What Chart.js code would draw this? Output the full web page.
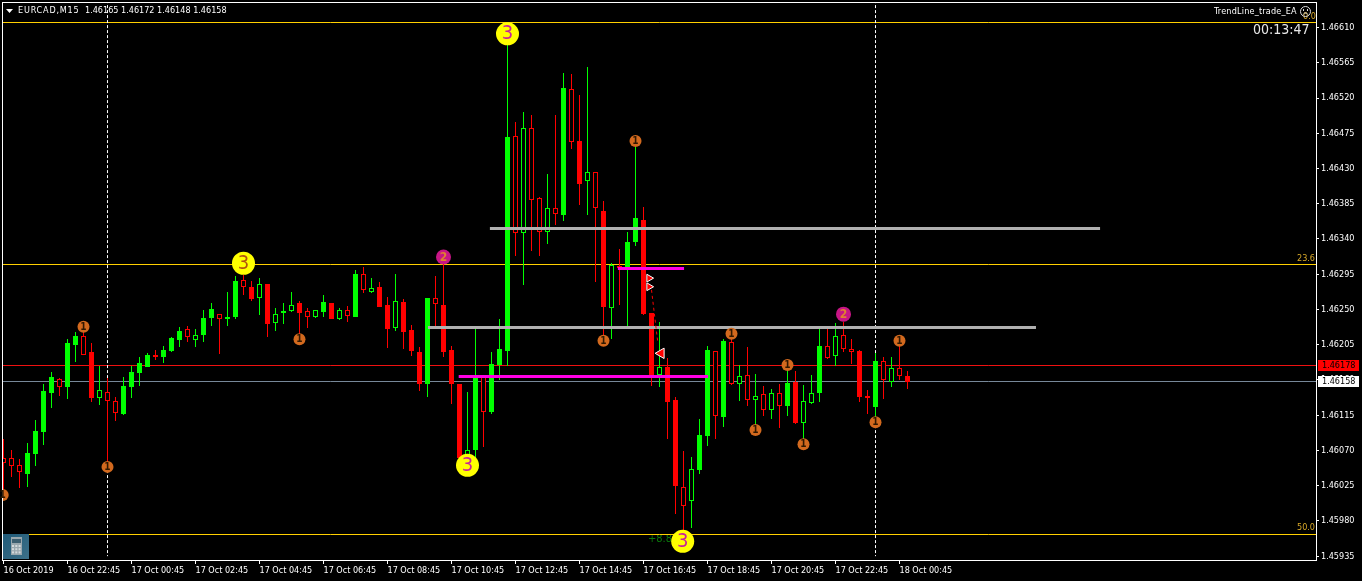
<!DOCTYPE html>
<html>
<head>
<meta charset="utf-8">
<style>html,body{margin:0;padding:0;background:#000;overflow:hidden}canvas{display:block}</style>
<script src="https://cdn.jsdelivr.net/npm/chart.js@4"></script>
</head>
<body>
<canvas id="c" width="1362" height="581"></canvas>
<script>
const opens=[1.46060,1.46060,1.46052,1.46040,1.46065,1.46094,1.46143,1.46161,1.46151,1.46205,
1.46216,1.46196,1.46137,1.46145,1.46133,1.46117,1.46151,1.46169,1.46177,1.46192,
1.46189,1.46197,1.46211,1.46225,1.46211,1.46217,1.46239,1.46244,1.46238,1.46240,
1.46288,1.46279,1.46264,1.46282,1.46233,1.46245,1.46248,1.46258,1.46248,1.46240,
1.46247,1.46258,1.46238,1.46249,1.46240,1.46295,1.46272,1.46279,1.46256,1.46226,
1.46259,1.46224,1.46196,1.46155,1.46264,1.46256,1.46198,1.46155,1.46062,1.46070,
1.46164,1.46119,1.46179,1.46197,1.46472,1.46348,1.46482,1.46392,1.46349,1.46379,
1.46371,1.46532,1.46465,1.46414,1.46425,1.46376,1.46252,1.46305,1.46304,1.46336,
1.46364,1.46245,1.46166,1.46177,1.46134,1.46023,1.46006,1.46045,1.46088,1.46197,
1.46113,1.46209,1.46155,1.46166,1.46134,1.46142,1.46122,1.46143,1.46127,1.46157,
1.46105,1.46131,1.46143,1.46203,1.46190,1.46217,1.46200,1.46197,1.46140,1.46125,
1.46184,1.46158,1.46175,1.46165];
const closes=[1.46054,1.46050,1.46042,1.46067,1.46095,1.46146,1.46164,1.46151,1.46207,1.46216,
1.46192,1.46137,1.46147,1.46133,1.46118,1.46152,1.46170,1.46182,1.46192,1.46189,
1.46198,1.46213,1.46222,1.46215,1.46217,1.46239,1.46251,1.46238,1.46240,1.46286,
1.46279,1.46263,1.46282,1.46231,1.46244,1.46248,1.46256,1.46245,1.46240,1.46249,
1.46259,1.46238,1.46249,1.46242,1.46295,1.46275,1.46278,1.46253,1.46225,1.46261,
1.46221,1.46197,1.46155,1.46265,1.46257,1.46196,1.46155,1.46060,1.46070,1.46164,
1.46119,1.46180,1.46199,1.46470,1.46348,1.46482,1.46390,1.46349,1.46379,1.46372,
1.46533,1.46464,1.46410,1.46425,1.46380,1.46253,1.46307,1.46303,1.46336,1.46367,
1.46244,1.46165,1.46177,1.46132,1.46025,1.45999,1.46046,1.46090,1.46198,1.46114,
1.46210,1.46155,1.46165,1.46134,1.46140,1.46122,1.46143,1.46127,1.46156,1.46105,
1.46133,1.46143,1.46203,1.46188,1.46216,1.46200,1.46196,1.46138,1.46137,1.46184,
1.46160,1.46175,1.46165,1.46158];
const highs=[1.46085,1.46071,1.46059,1.46080,1.46109,1.46155,1.46170,1.46163,1.46212,1.46221,
1.46222,1.46207,1.46178,1.46163,1.46138,1.46164,1.46178,1.46189,1.46194,1.46198,
1.46203,1.46215,1.46228,1.46229,1.46225,1.46249,1.46258,1.46244,1.46272,1.46293,
1.46294,1.46286,1.46290,1.46282,1.46252,1.46258,1.46272,1.46261,1.46252,1.46249,
1.46268,1.46258,1.46252,1.46254,1.46300,1.46304,1.46290,1.46285,1.46266,1.46295,
1.46263,1.46230,1.46202,1.46265,1.46293,1.46316,1.46203,1.46155,1.46145,1.46225,
1.46164,1.46196,1.46238,1.46588,1.46489,1.46502,1.46498,1.46394,1.46423,1.46498,
1.46552,1.46551,1.46524,1.46560,1.46425,1.46388,1.46309,1.46327,1.46349,1.46465,
1.46381,1.46245,1.46234,1.46188,1.46138,1.46069,1.46062,1.46110,1.46203,1.46197,
1.46212,1.46219,1.46179,1.46202,1.46168,1.46152,1.46149,1.46155,1.46179,1.46171,
1.46154,1.46166,1.46225,1.46225,1.46233,1.46234,1.46212,1.46198,1.46147,1.46194,
1.46189,1.46189,1.46210,1.46172];
const lows=[1.46013,1.46036,1.46022,1.46023,1.46050,1.46077,1.46124,1.46140,1.46136,1.46183,
1.46192,1.46132,1.46128,1.46049,1.46108,1.46115,1.46137,1.46152,1.46177,1.46185,
1.46182,1.46196,1.46202,1.46208,1.46202,1.46208,1.46229,1.46193,1.46229,1.46238,
1.46268,1.46261,1.46243,1.46215,1.46222,1.46231,1.46247,1.46212,1.46226,1.46239,
1.46240,1.46238,1.46236,1.46234,1.46240,1.46271,1.46271,1.46253,1.46201,1.46222,
1.46199,1.46191,1.46146,1.46138,1.46228,1.46189,1.46129,1.46054,1.46051,1.46059,
1.46074,1.46117,1.46160,1.46178,1.46318,1.46281,1.46325,1.46318,1.46334,1.46358,
1.46363,1.46455,1.46383,1.46371,1.46285,1.46210,1.46212,1.46256,1.46229,1.46331,
1.46243,1.46152,1.46151,1.46085,1.45989,1.45964,1.45971,1.46040,1.46076,1.46085,
1.46100,1.46154,1.46133,1.46127,1.46096,1.46114,1.46110,1.46099,1.46114,1.46104,
1.46078,1.46129,1.46132,1.46187,1.46178,1.46196,1.46180,1.46132,1.46117,1.46106,
1.46136,1.46151,1.46160,1.46148];
const hollowBars=[0,1,2,7,10,12,13,14,23,24,27,30,32,34,36,38,39,42,43,45,46,49,54,58,60,64,65,66,67,68,69,71,73,74,76,82,85,86,89,91,92,93,94,95,96,97,100,101,103,104,105,106,110,111,112];
const timeTickBars=[0,8,16,24,32,40,48,56,64,72,80,88,96,104,112];
const timeLabels=['16 Oct 2019','16 Oct 22:45','17 Oct 00:45','17 Oct 02:45','17 Oct 04:45','17 Oct 06:45','17 Oct 08:45','17 Oct 10:45','17 Oct 12:45','17 Oct 14:45','17 Oct 16:45','17 Oct 18:45','17 Oct 20:45','17 Oct 22:45','18 Oct 00:45'];
const priceTicks=[1.46610,1.46565,1.46520,1.46475,1.46430,1.46385,1.46340,1.46295,1.46250,1.46205,1.46160,1.46115,1.46070,1.46025,1.45980,1.45935];
const fibLevels=[1.46616,1.46307,1.45963];
const bidPrice=1.46178, lastPrice=1.46158;
const vLineBars=[13,109];
const grayTrend1=[60.8,137.07,1.46354], grayTrend2=[53.06,129.06,1.46227];
const magTrend1=[56.9,88.07,1.46165], magTrend2=[76.8,85.07,1.46302];
const orangeBars=[10,-0.1,13,37,79,75,91,98,94,100,109,112];
const orangePrices=[1.46228,1.46013,1.46049,1.46212,1.46465,1.46210,1.46219,1.46179,1.46096,1.46078,1.46106,1.46210];
const purpleBars=[55,105];
const purplePrices=[1.46317,1.46244];
const yellowBars=[63,30,58,84.9];
const yellowPrices=[1.46602,1.46309,1.46051,1.45954];
const arrowRightBars=[80.7,80.7], arrowRightPrices=[1.46290,1.46279];
const arrowLeftBars=[82.2], arrowLeftPrices=[1.46194];
const dashBars=[81.0,81.8], dashPrices=[1.46275,1.46207];

const FAMILY='"DejaVu Sans Condensed","Open Sans"';
const GREEN='#00ff00', RED='#ff0000', GOLD='#ffd000';
const isHollow=i=>hollowBars.includes(i);
const barColor=i=>closes[i]>=opens[i]?GREEN:RED;
const pts=(xs,ys)=>xs.map((x,i)=>({x,y:ys[i]}));
const hline=(t,color,w,order)=>({type:'line',data:[{x:t[0],y:t[2]},{x:t[1],y:t[2]}],borderColor:color,borderWidth:w,pointRadius:0,order});
const levelLine=(p,color)=>({type:'line',data:[{x:-1,y:p},{x:165,y:p}],borderColor:color,borderWidth:1,pointRadius:0,order:20});
const marks=(xs,ys,color,r)=>({type:'scatter',data:pts(xs,ys),backgroundColor:color,borderWidth:0,pointRadius:r,pointHoverRadius:r,order:2});

const frame={id:'frame',
 afterLayout(ch){
  const y=ch.scales.y,x=ch.scales.x,a=ch.chartArea;
  y.top=3;y.bottom=560;y.height=557;y.configure();
  x.top=561;x.bottom=581;
  a.top=3;a.bottom=560;a.height=557;
 },
 beforeDraw(ch){
  const c=ch.ctx;c.save();c.fillStyle='#000';c.fillRect(0,0,1362,581);c.restore();
 },
 beforeDatasetsDraw(ch){
  const c=ch.ctx;c.save();c.strokeStyle='#fff';c.lineWidth=1;c.strokeRect(2.5,2.5,1314,558);
  c.font='11px '+FAMILY;c.fillStyle='#0a7a0a';c.textBaseline='middle';c.textAlign='left';c.fillText('+8.8',648,539);
  c.restore();
  ch.data.datasets.forEach((d,i)=>{
   const els=ch.getDatasetMeta(i).data;
   if(d.type==='bar'){els.forEach(e=>{e.y=Math.round(e.y);e.base=Math.round(e.base);});}
   else if(d.type==='line'&&d.data.length===2&&d.data[0].y===d.data[1].y){els.forEach(e=>{e.y=Math.floor(e.y)+0.5;});}
  });
 },
 afterDraw(ch){
  const c=ch.ctx,X=ch.scales.x,Y=ch.scales.y;
  c.save();c.textBaseline='middle';
  const lab=(xs,ys,txt,col,font)=>{c.font=font;c.fillStyle=col;c.textAlign='center';xs.forEach((x,i)=>c.fillText(txt,X.getPixelForValue(x),Y.getPixelForValue(ys[i])+0.5));};
  lab(orangeBars,orangePrices,'1','#301800','bold 10px '+FAMILY);
  lab(purpleBars,purplePrices,'2','#e08030','bold 12px '+FAMILY);
  c.font='20px '+FAMILY;c.textAlign='center';
  yellowBars.forEach((x,i)=>{c.fillStyle=i===1?'#b05010':'#c8209a';c.fillText('3',X.getPixelForValue(x),Y.getPixelForValue(yellowPrices[i])+0.5);});
  c.textAlign='left';
  c.fillStyle='#fff';c.beginPath();c.moveTo(6,9);c.lineTo(13,9);c.lineTo(9.5,13);c.closePath();c.fill();
  c.font='9px '+FAMILY;c.fillStyle='#fff';
  c.letterSpacing='0.8px';c.fillText('EURCAD,M15',18,10.5);
  c.letterSpacing='0px';c.fillText('1.46165 1.46172 1.46148 1.46158',85,10.5);
  c.letterSpacing='0.2px';c.fillText('TrendLine_trade_EA',1214,11.5);
  c.letterSpacing='0px';
  c.font='14px '+FAMILY;c.fillStyle='#e8e8e8';c.fillText('00:13:47',1253,30.5);
  c.font='9px '+FAMILY;c.fillStyle='#d8a828';
  c.fillText('23.6',1297,259);c.fillText('50.0',1297,528);c.fillText('0.0',1303,16.5);
  c.strokeStyle='#ddd';c.lineWidth=1;c.beginPath();c.arc(1305.5,11.5,5,0,Math.PI*2);c.stroke();
  c.fillStyle='#ddd';c.fillRect(1303,9,1,2);c.fillRect(1307,9,1,2);
  c.beginPath();c.arc(1305.5,15.5,2.5,Math.PI*1.15,Math.PI*1.85);c.stroke();
  c.fillStyle='#ff0000';c.fillRect(1318,360,41,11);
  c.fillStyle='#ffffff';c.fillRect(1318,376,41,11);
  c.fillStyle='#000';c.font='9px '+FAMILY;
  c.fillText('1.46178',1322,366);c.fillText('1.46158',1322,382);
  const g=c.createLinearGradient(3,534,29,559);g.addColorStop(0,'#1f5a78');g.addColorStop(1,'#3d7088');
  c.fillStyle=g;c.fillRect(3,534,26,25);
  c.fillStyle='#9aa8ae';c.fillRect(11,537,11,18);
  c.fillStyle='#3d5f70';c.fillRect(12,539,9,4);
  c.fillStyle='#d4dadc';
  for(let a=0;a<3;a++)for(let b=0;b<3;b++)c.fillRect(12+a*3.3,545+b*3.2,2,2);
  c.restore();
 }
};

new Chart(document.getElementById('c'),{
 type:'bar',
 plugins:[frame],
 data:{datasets:[
  levelLine(fibLevels[0],GOLD),levelLine(fibLevels[1],GOLD),levelLine(fibLevels[2],GOLD),
  levelLine(bidPrice,'#f01010'),levelLine(lastPrice,'#778899'),
  ...vLineBars.map(k=>({type:'line',data:[{x:k,y:1.46645},{x:k,y:1.45935}],borderColor:'#fff',borderWidth:1,borderDash:[3,2],pointRadius:0,order:15})),
  {type:'bar',label:'wicks',data:highs.map((h,i)=>({x:i,y:[lows[i],h]})),backgroundColor:highs.map((h,i)=>barColor(i)),borderWidth:0,barThickness:1,inflateAmount:0,grouped:false,order:10},
  {type:'bar',label:'bodies',data:opens.map((o,i)=>({x:i,y:[o,closes[i]]})),
   backgroundColor:opens.map((o,i)=>isHollow(i)?'#000':barColor(i)),borderColor:opens.map((o,i)=>barColor(i)),
   borderWidth:1,borderSkipped:false,barThickness:5,inflateAmount:0,grouped:false,order:9},
  hline(grayTrend1,'#b0b0b0',3,5),hline(grayTrend2,'#b0b0b0',3,5),
  hline(magTrend1,'#ff00e6',3,4),hline(magTrend2,'#ff00e6',3,4),
  {type:'line',data:pts(dashBars,dashPrices),borderColor:'#ff0000',borderWidth:1,borderDash:[3,3],pointRadius:0,order:3},
  {type:'scatter',data:pts(arrowRightBars,arrowRightPrices),pointStyle:'triangle',pointRotation:90,backgroundColor:'#ff0000',borderColor:'#fff',borderWidth:1,pointRadius:4.5,order:2},
  {type:'scatter',data:pts(arrowLeftBars,arrowLeftPrices),pointStyle:'triangle',pointRotation:-90,backgroundColor:'#ff0000',borderColor:'#fff',borderWidth:1,pointRadius:6,order:2},
  marks(orangeBars,orangePrices,'#d2691e',6),
  marks(purpleBars,purplePrices,'#c71585',7.5),
  marks(yellowBars,yellowPrices,'#ffff00',11.5)
 ]},
 options:{
  responsive:false,animation:false,devicePixelRatio:1,
  layout:{autoPadding:false,padding:{left:3,top:3,right:0,bottom:0}},
  plugins:{legend:{display:false},tooltip:{enabled:false},title:{display:false}},
  events:[],
  scales:{
   x:{type:'linear',position:'bottom',min:-0.0625,max:164.0625,offset:false,
    afterBuildTicks(s){s.ticks=timeTickBars.map(v=>({value:v}));},
    afterFit(s){s.height=20;},
    grid:{drawOnChartArea:false,color:'#fff',tickColor:'#fff',tickLength:3,offset:false},
    border:{display:false},
    ticks:{color:'#fff',font:{family:FAMILY,size:9},autoSkip:false,maxRotation:0,minRotation:0,align:'start',padding:1,
     callback:(v,i)=>timeLabels[i]}
   },
   y:{type:'linear',position:'right',min:1.459301,max:1.466413,
    afterBuildTicks(s){s.ticks=priceTicks.map(v=>({value:v}));},
    afterFit(s){s.width=46;},
    grid:{drawOnChartArea:false,color:'#fff',tickColor:'#fff',tickLength:3},
    border:{display:false},
    ticks:{color:'#fff',font:{family:FAMILY,size:9},padding:2,autoSkip:false,callback:v=>v.toFixed(5)}
   }
  }
 }
});
</script>
</body>
</html>
